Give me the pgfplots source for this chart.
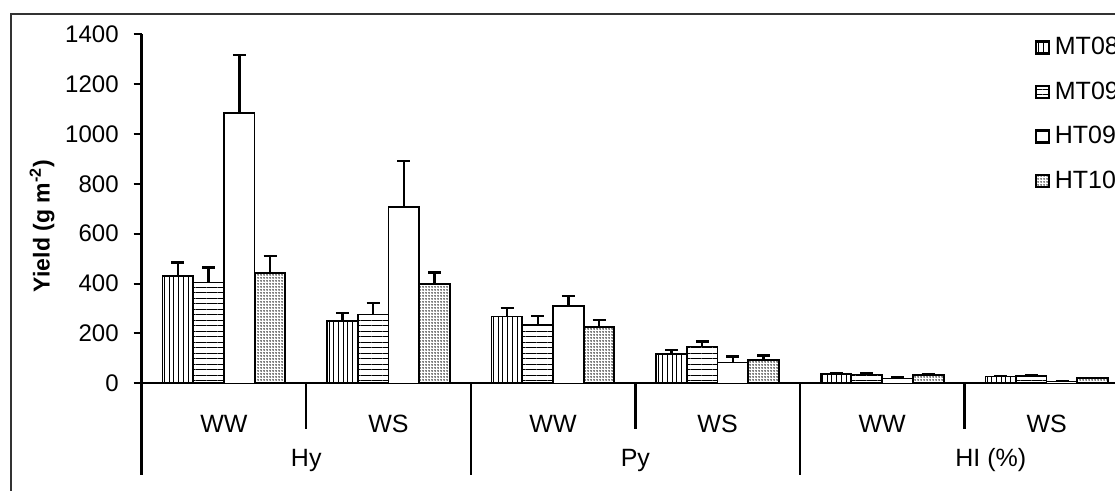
\documentclass[border=0pt]{standalone}
\usepackage{pgfplots}
\pgfplotsset{compat=1.18}
\usepackage{pgfplotstable}
\usepackage{fontspec}
\setmainfont{Liberation Sans}
\usetikzlibrary{patterns.meta}

\pgfplotstableread{
x y e
0 430 54
1 250 33
2 267 34
3 118 16
4 37 5
5 27 3
}\mtA
\pgfplotstableread{
x y e
0 404 61
1 275 48
2 234 36
3 147 21
4 35 6
5 30 2
}\mtB
\pgfplotstableread{
x y e
0 1085 232
1 708 183
2 310 40
3 83 24
4 20 3
5 8 2
}\htA
\pgfplotstableread{
x y e
0 444 67
1 397 47
2 227 27
3 94 18
4 35 2
5 20 1
}\htB

\begin{document}
\begin{tikzpicture}
\useasboundingbox (-70.85pt,-53.85pt) rectangle (486.65pt,191.65pt);
\clip (-70.85pt,-53.85pt) rectangle (486.65pt,191.65pt);
\begin{axis}[
  at={(0pt,0pt)}, anchor=south west,
  scale only axis, width=493.65pt, height=174.5pt,
  xmin=-0.5, xmax=5.5, ymin=0, ymax=1400,
  axis x line=bottom, axis y line=left,
  axis line style={-, line width=1.2pt},
  ytick={0,200,...,1400},
  y tick style={line width=1pt, black},
  tick align=outside, major tick length=4pt,
  yticklabel style={font=\fontsize{12}{14}\selectfont, xshift=-4pt},
  /pgf/number format/assume math mode=true,
  /pgf/number format/1000 sep={},
  xtick={0,...,5},
  xticklabels={WW,WS,WW,WS,WW,WS},
  x tick style={draw=none},
  xticklabel style={font=\fontsize{12.5}{15}\selectfont, anchor=center, yshift=-16.35pt},
  ylabel={Yield (g m\textsuperscript{-2})},
  every axis y label/.style={at={(axis description cs:-0.101,0.4507)}, rotate=90, anchor=center, font=\bfseries\fontsize{11.5}{13}\selectfont},
  ybar=0pt, bar width=15.35pt,
  clip=false,
  legend style={draw=none, fill=none, anchor=north west, at={(0.9045,0.9971)},
    font=\fontsize{12.5}{14}\selectfont, row sep=10pt, inner sep=0pt, outer sep=0pt,
    nodes={inner sep=1pt},
    /tikz/every odd column/.append style={column sep=1.5pt}},
  legend cell align=left,
  mylegend/.style={legend image code/.code={\draw[##1, line width=1.1pt] (0pt,-3pt) rectangle (6.5pt,3pt);}},
  myerr/.style={error bars/.cd, y dir=plus, y explicit,
    error bar style={line width=1.2pt, black},
    error mark options={rotate=90, line width=1.2pt, black, mark size=3.25pt}},
]
\addplot[draw=black, line width=0.75pt, pattern={Lines[angle=90,distance=2.35pt,line width=0.45pt]}, mylegend, myerr]
  table[x=x, y=y, y error=e] {\mtA};
\addplot[draw=black, line width=0.75pt, pattern={Lines[angle=0,distance=2.75pt,line width=0.5pt]}, mylegend, myerr]
  table[x=x, y=y, y error=e] {\mtB};
\addplot[draw=black, line width=0.75pt, fill=white, mylegend, myerr]
  table[x=x, y=y, y error=e] {\htA};
\addplot[draw=black, line width=1pt, pattern={Dots[distance=1.5pt,radius=0.38pt]}, mylegend, myerr]
  table[x=x, y=y, y error=e] {\htB};
\legend{MT08,MT09,HT09,HT10}
\pgfplotsinvokeforeach{-0.5,1.5,3.5,5.5}{\draw[line width=1.2pt] (axis cs:#1,0) -- ++(0pt,-45.85pt);}
\pgfplotsinvokeforeach{0.5,2.5,4.5}{\draw[line width=1.2pt] (axis cs:#1,0) -- ++(0pt,-22.85pt);}
\node[font=\fontsize{12.5}{15}\selectfont] at ([yshift=-38.35pt]axis cs:0.5,0) {Hy};
\node[font=\fontsize{12.5}{15}\selectfont] at ([yshift=-38.35pt]axis cs:2.5,0) {Py};
\node[font=\fontsize{12.5}{15}\selectfont] at ([yshift=-38.35pt]axis cs:4.66,0) {HI (\%)};
\end{axis}
\draw[line width=1pt, black!80] (-65.35pt,-60pt) -- (-65.35pt,184.65pt) -- (500pt,184.65pt);
\end{tikzpicture}
\end{document}
